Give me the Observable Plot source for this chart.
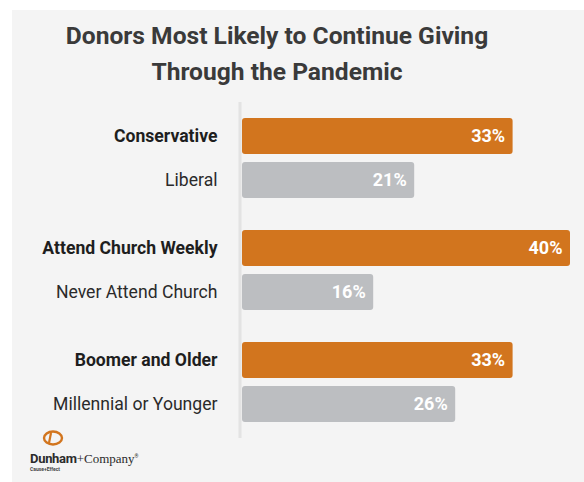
<!DOCTYPE html>
<html>
<head>
<meta charset="utf-8">
<script src="https://cdn.jsdelivr.net/npm/d3@7"></script>
<script src="https://cdn.jsdelivr.net/npm/@observablehq/plot@0.6"></script>
<style>
  html, body { margin: 0; padding: 0; background: #ffffff; }
  #panel { position: absolute; left: 12px; top: 10px; width: 572px; height: 472px; background: #f4f4f4; overflow: hidden; font-family: Roboto, "Noto Sans", sans-serif; }
  #title { position: absolute; left: 0; top: 8px; width: 530px; text-align: center; font-size: 24.6px; line-height: 36px; font-weight: 700; color: #3a3a3a; }
  #chart { position: absolute; left: 0; top: 90px; }
  #logo { position: absolute; left: 18px; top: 420px; }
  #logo .mark { position: absolute; left: 12px; top: 0px; }
  #logo .name { position: absolute; left: 0px; top: 21px; white-space: nowrap; font-size: 13px; color: #2b2b2b; }
  #logo .name b { font-family: Roboto, sans-serif; font-weight: 700; letter-spacing: -0.3px; }
  #logo .name span { font-family: "Liberation Serif", serif; }
  #logo .name sup { font-size: 5px; }
  #logo .sub { position: absolute; left: 0px; top: 36px; font-size: 5px; font-weight: 700; color: #444; white-space: nowrap; }
</style>
</head>
<body>
<div id="panel">
  <div id="title">Donors Most Likely to Continue Giving<br>Through the Pandemic</div>
  <div id="chart"></div>
  <div id="logo">
    <svg class="mark" width="22" height="16" viewBox="0 0 22 16">
      <ellipse cx="11" cy="8" rx="9" ry="6.5" fill="none" stroke="#d2751e" stroke-width="2.4"/>
      <path d="M9 3 L7 13" stroke="#d2751e" stroke-width="2.2"/>
    </svg>
    <div class="name"><b>Dunham</b><span>+Company</span><sup>®</sup></div>
    <div class="sub">Cause+Effect</div>
  </div>
</div>
<script>
const groups = ["Political", "Church", "Generation"];
const categories = ["Conservative", "Liberal", "Attend Church Weekly", "Never Attend Church", "Boomer and Older", "Millennial or Younger"];
const categoryGroups = ["Political", "Political", "Church", "Church", "Generation", "Generation"];
const ranks = ["lead", "trail", "lead", "trail", "lead", "trail"];
const values = [33, 21, 40, 16, 33, 26];
const rankDomain = ["lead", "trail"];
const rankColors = ["#d2751e", "#bcbec1"];

const data = categories.map((c, i) => ({label: c, group: categoryGroups[i], rank: ranks[i], value: values[i]}));

const chart = Plot.plot({
  width: 572,
  height: 340,
  marginTop: 18,
  marginBottom: 18,
  marginLeft: 230,
  marginRight: 14,
  style: {background: "transparent", fontFamily: "Roboto, 'Noto Sans', sans-serif", overflow: "visible"},
  facet: {data, y: "group"},
  fy: {domain: groups, paddingInner: 32 / 112, paddingOuter: 0, axis: null, label: null},
  y: {domain: rankDomain, paddingInner: 8 / 44, paddingOuter: 0, axis: null, label: null},
  x: {domain: [0, 40], axis: null},
  color: {domain: rankDomain, range: rankColors},
  marks: [
    Plot.ruleX([0], {dx: -2.5, stroke: "#e3e3e3", strokeWidth: 3, insetTop: -16, insetBottom: -16}),
    Plot.barX(data, {x: "value", y: "rank", fill: "rank", rx: 3}),
    Plot.text(data, {filter: d => d.rank === "lead", x: 0, y: "rank", text: "label", textAnchor: "end", dx: -25, fontSize: 17.6, fontWeight: "bold", fill: "#1e1e1e"}),
    Plot.text(data, {filter: d => d.rank === "trail", x: 0, y: "rank", text: "label", textAnchor: "end", dx: -25, fontSize: 17.6, fill: "#2a2a2a"}),
    Plot.text(data, {x: "value", y: "rank", text: d => d.value + "%", textAnchor: "end", dx: -8, fontSize: 18, fontWeight: "bold", fill: "#ffffff"})
  ]
});
document.getElementById("chart").appendChild(chart);
</script>
</body>
</html>
